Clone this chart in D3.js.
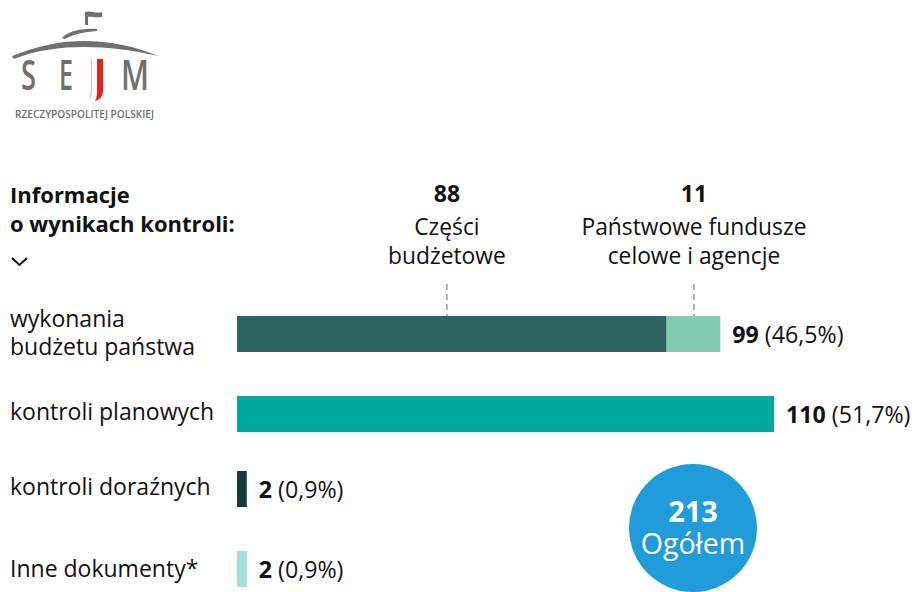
<!DOCTYPE html>
<html>
<head>
<meta charset="utf-8">
<script src="https://cdnjs.cloudflare.com/ajax/libs/d3/7.8.5/d3.min.js"></script>
<style>
  html, body { margin: 0; padding: 0; background: #fff; }
  svg { display: block; }
  text { font-family: "Open Sans", "Noto Sans", sans-serif; fill: #111; }
</style>
</head>
<body>
<svg id="chart" width="912" height="592"></svg>
<script>
// values
var categories = ["wykonania|budżetu państwa", "kontroli planowych", "kontroli doraźnych", "Inne dokumenty*"];
var budgetParts = [88, 110, 2, 2];
var fundParts = [11, 0, 0, 0];
var totals = [99, 110, 2, 2];
var percents = ["(46,5%)", "(51,7%)", "(0,9%)", "(0,9%)"];
var barColors = ["#2c6560", "#00a99d", "#123c38", "#a3e0d6"];
var fundColor = "#83c8b0";
var calloutValues = [88, 11];
var calloutLabels = ["Części|budżetowe", "Państwowe fundusze|celowe i agencje"];
var calloutAnchors = [43, 93.6];
var grandTotal = 213;

var svg = d3.select("#chart");

var x = d3.scaleLinear().domain([0, 110]).range([237, 774]);
// rows are not evenly spaced in the original
var y = d3.scaleOrdinal().domain(categories).range([334, 414, 489, 569]);
var barH = 36;

// logo
var logo = svg.append("g");
logo.append("path").attr("fill", "#6f6f6f")
  .attr("d", "M12 56 C40 45 62 41 84 41 C108 41 135 46 158 56 C132 50 108 47 84 47 C60 47 36 50 14 59 Z");
logo.append("path").attr("fill", "#6f6f6f")
  .attr("d", "M62 38 C67 32 80 28 97 29 L97 31 C84 32 74 34 65 39 Z");
logo.append("path").attr("fill", "#6f6f6f")
  .attr("d", "M85 25 L85 12 C90 10 96 14 102 12 L102 17 C96 18 91 16 88 17 L88 25 Z");
logo.selectAll("text.sejm").data([["S", 21, 15], ["E", 59, 14], ["M", 121, 28]]).enter().append("text")
  .attr("x", function(d) { return d[1]; }).attr("y", 90)
  .attr("textLength", function(d) { return d[2]; })
  .attr("lengthAdjust", "spacingAndGlyphs")
  .style("font-size", "42px").style("font-weight", 600).style("fill", "#6f6f6f")
  .text(function(d) { return d[0]; });
logo.append("path").attr("fill", "#e5231e")
  .attr("d", "M97 59 L103 59 L103 90 C103 96 100 100 95 101 C97 98 97 94 97 90 Z");
logo.append("path").attr("fill", "#f2a8a2")
  .attr("d", "M91 59 L92 59 L92 90 C92 95 91 98 89 100 C90 96 91 93 91 90 Z");
logo.append("text").attr("x", 15).attr("y", 118)
  .attr("textLength", 139)
  .attr("lengthAdjust", "spacingAndGlyphs")
  .style("font-size", "10px").style("font-weight", 600).style("fill", "#6f6f6f")
  .text("RZECZYPOSPOLITEJ POLSKIEJ");

// header
svg.append("text").attr("x", 10).attr("y", 203)
  .style("font-size", "22px").style("font-weight", 700).text("Informacje");
svg.append("text").attr("x", 10).attr("y", 232)
  .style("font-size", "22px").style("font-weight", 700).text("o wynikach kontroli:");
svg.append("path").attr("d", "M12 258 L19.5 265 L27 258")
  .attr("fill", "none").attr("stroke", "#111").attr("stroke-width", 2);

// row labels
var rows = svg.selectAll("g.row").data(categories).enter().append("g").attr("class", "row");
rows.each(function(c) {
  var lines = c.split("|");
  var t = d3.select(this).append("text").attr("x", 10).style("font-size", "23px");
  lines.forEach(function(l, i) {
    t.append("tspan").attr("x", 10)
      .attr("y", y(c) + 6 + (lines.length > 1 ? (i === 0 ? -13 : 15) : 0) + (c === categories[3] ? 2 : 0))
      .text(l);
  });
});

// bars
rows.append("rect")
  .attr("x", x(0))
  .attr("y", function(d) { return y(d) - barH / 2; })
  .attr("width", function(d, i) { return x(budgetParts[i]) - x(0); })
  .attr("height", barH)
  .attr("fill", function(d, i) { return barColors[i]; });
rows.filter(function(d, i) { return fundParts[i] > 0; }).append("rect")
  .attr("x", function(d) { return x(budgetParts[categories.indexOf(d)]); })
  .attr("y", function(d) { return y(d) - barH / 2; })
  .attr("width", function(d) { return x(fundParts[categories.indexOf(d)]) - x(0); })
  .attr("height", barH)
  .attr("fill", fundColor);

// value labels
rows.append("text")
  .attr("x", function(d, i) { return x(totals[i]) + 12; })
  .attr("y", function(d) { return y(d) + 9; })
  .style("font-size", "23.2px")
  .each(function(d, i) {
    var t = d3.select(this);
    t.append("tspan").style("font-weight", 700).text(totals[i]);
    t.append("tspan").text(" " + percents[i]);
  });

// callouts over the first bar
calloutValues.forEach(function(v, i) {
  var cx = x(calloutAnchors[i]);
  svg.append("text").attr("x", cx).attr("y", 202).attr("text-anchor", "middle")
    .style("font-size", "23px").style("font-weight", 700).text(v);
  calloutLabels[i].split("|").forEach(function(l, j) {
    svg.append("text").attr("x", cx).attr("y", 235 + j * 29).attr("text-anchor", "middle")
      .style("font-size", "22.8px").text(l);
  });
  svg.append("line")
    .attr("x1", cx).attr("x2", cx).attr("y1", 284).attr("y2", 316)
    .attr("stroke", "#666").attr("stroke-width", 1).attr("stroke-dasharray", "6 4");
});

// total bubble
svg.append("circle").attr("cx", 693).attr("cy", 528).attr("r", 64).attr("fill", "#1f9cd9");
svg.append("text").attr("x", 693).attr("y", 522).attr("text-anchor", "middle")
  .style("font-size", "29px").style("font-weight", 700).style("fill", "#fff").text(grandTotal);
svg.append("text").attr("x", 693).attr("y", 554).attr("text-anchor", "middle")
  .style("font-size", "28.5px").style("fill", "#fff").text("Ogółem");
</script>
</body>
</html>
